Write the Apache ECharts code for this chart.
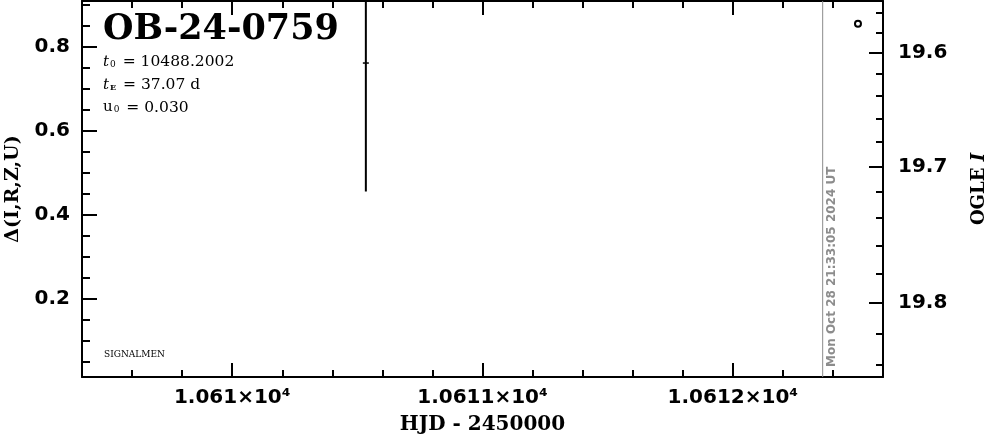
<!DOCTYPE html>
<html>
<head>
<meta charset="utf-8">
<script src="https://cdn.jsdelivr.net/npm/echarts@6/dist/echarts.min.js"></script>
<style>
html,body{margin:0;padding:0;background:#fff;}
#chart{width:986px;height:434px;}
</style>
</head>
<body>
<div id="chart"></div>
<script>
// ---- data ----
const xRange = [10609.4, 10612.6];
const xMajorTicks = [10610, 10611, 10612];
const xTickLabels = ['1.061×10⁴', '1.0611×10⁴', '1.0612×10⁴'];
const xMinorTicks = [10609.6, 10609.8, 10610.2, 10610.4, 10610.6, 10610.8, 10611.2, 10611.4, 10611.6, 10611.8, 10612.2, 10612.4];
const yRange = [0.014, 0.908];
const yMajorTicks = [0.2, 0.4, 0.6, 0.8];
const yMinorTicks = [0.05, 0.1, 0.15, 0.25, 0.3, 0.35, 0.45, 0.5, 0.55, 0.65, 0.7, 0.75, 0.85, 0.9];
const magMajorTicks = [19.6, 19.7, 19.8];
const magTickLabels = ['19.6', '19.7', '19.8'];
const magMinorTicks = [19.56, 19.58, 19.62, 19.64, 19.66, 19.68, 19.72, 19.74, 19.76, 19.78, 19.82, 19.84];
// OGLE point with error bar: [HJD, delta, lower, upper]
const ogleHJD = [10610.534];
const ogleDelta = [0.7605];
const ogleLow = [0.455];
const ogleHigh = [1.066];
// other survey point
const otherHJD = [10612.50];
const otherDelta = [0.854];
// "now" line
const nowHJD = 10612.359;
const nowText = 'Mon Oct 28 21:33:05 2024 UT';
// magnitude -> delta mapping
function magToDelta(m) { return 2.1259 - 1.6116 * Math.pow(10, 0.797 * (m - 19.7)); }

const magMajorD = magMajorTicks.map(magToDelta);
const magMinorD = magMinorTicks.map(magToDelta);

const chart = echarts.init(document.getElementById('chart'));
const tickFont = {fontFamily: 'DejaVu Sans', fontWeight: 'bold', fontSize: 20, color: '#000'};
const lineS = {color: '#000', width: 2};

function nearestIdx(arr, v) {
  let b = 0; for (let i = 1; i < arr.length; i++) if (Math.abs(arr[i] - v) < Math.abs(arr[b] - v)) b = i; return b;
}

const baseX = {type: 'value', min: xRange[0], max: xRange[1], splitLine: {show: false}};
const baseY = {type: 'value', min: yRange[0], max: yRange[1], splitLine: {show: false}};

chart.setOption({
  animation: false,
  backgroundColor: '#fff',
  grid: {left: 82, right: 103, top: 1, bottom: 57, containLabel: false, outerBoundsMode: 'none'},
  xAxis: [
    Object.assign({}, baseX, {position: 'bottom', axisLine: {lineStyle: lineS},
      axisTick: {inside: true, length: 14, lineStyle: lineS, customValues: xMajorTicks},
      axisLabel: Object.assign({customValues: xMajorTicks, margin: 11,
        formatter: v => xTickLabels[nearestIdx(xMajorTicks, v)]}, tickFont),
      name: 'HJD - 2450000', nameLocation: 'middle', nameGap: 38,
      nameTextStyle: {fontFamily: 'DejaVu Serif', fontWeight: 'bold', fontSize: 20, color: '#000'}}),
    Object.assign({}, baseX, {position: 'bottom', axisLine: {show: false},
      axisTick: {inside: true, length: 7, lineStyle: lineS, customValues: xMinorTicks},
      axisLabel: {show: false}}),
    Object.assign({}, baseX, {position: 'top', axisLine: {lineStyle: lineS},
      axisTick: {inside: true, length: 14, lineStyle: lineS, customValues: xMajorTicks},
      axisLabel: {show: false}}),
    Object.assign({}, baseX, {position: 'top', axisLine: {show: false},
      axisTick: {inside: true, length: 7, lineStyle: lineS, customValues: xMinorTicks},
      axisLabel: {show: false}})
  ],
  yAxis: [
    Object.assign({}, baseY, {position: 'left', axisLine: {show: true, lineStyle: lineS},
      axisTick: {show: true, inside: true, length: 15, lineStyle: lineS, customValues: yMajorTicks},
      axisLabel: Object.assign({customValues: yMajorTicks, margin: 12, formatter: v => v.toFixed(1)}, tickFont),
      name: 'Δ(I,R,Z,U)', nameLocation: 'middle', nameGap: 59, nameRotate: 90,
      nameTextStyle: {fontFamily: 'DejaVu Serif', fontWeight: 'bold', fontSize: 19, color: '#000'}}),
    Object.assign({}, baseY, {position: 'left', axisLine: {show: false},
      axisTick: {show: true, inside: true, length: 8, lineStyle: lineS, customValues: yMinorTicks},
      axisLabel: {show: false}}),
    Object.assign({}, baseY, {position: 'right', axisLine: {show: true, lineStyle: lineS},
      axisTick: {show: true, inside: true, length: 14, lineStyle: lineS, customValues: magMajorD},
      axisLabel: Object.assign({customValues: magMajorD, margin: 15,
        formatter: v => magTickLabels[nearestIdx(magMajorD, v)]}, tickFont),
      name: 'OGLE {i|I}', nameLocation: 'middle', nameGap: 87, nameRotate: 90,
      nameTextStyle: {fontFamily: 'DejaVu Serif', fontWeight: 'bold', fontSize: 18, color: '#000',
        rich: {i: {fontFamily: 'DejaVu Serif', fontStyle: 'italic', fontWeight: 'bold', fontSize: 18, color: '#000'}}}}),
    Object.assign({}, baseY, {position: 'right', axisLine: {show: false},
      axisTick: {show: true, inside: true, length: 7, lineStyle: lineS, customValues: magMinorD},
      axisLabel: {show: false}})
  ],
  series: [
    {
      type: 'custom', xAxisIndex: 0, yAxisIndex: 0, clip: true,
      data: [[nowHJD]],
      renderItem: function (params, api) {
        const b = api.coord([api.value(0), yRange[0]]);
        const t = api.coord([api.value(0), yRange[1]]);
        return {type: 'group', children: [
          {type: 'line', shape: {x1: b[0], y1: b[1], x2: t[0], y2: t[1]}, style: {stroke: '#8c8c8c', lineWidth: 1}},
          {type: 'text', x: b[0] + 9, y: b[1] - 10, rotation: Math.PI / 2,
            style: {text: nowText, fill: '#8c8c8c', font: 'bold 12px "DejaVu Sans"', align: 'left', verticalAlign: 'middle'}}
        ]};
      }
    },
    {
      type: 'custom', xAxisIndex: 0, yAxisIndex: 0, clip: true,
      data: ogleHJD.map((x, i) => [x, ogleDelta[i], ogleLow[i], ogleHigh[i]]),
      renderItem: function (params, api) {
        const p = api.coord([api.value(0), api.value(1)]);
        const lo = api.coord([api.value(0), api.value(2)]);
        const hi = api.coord([api.value(0), api.value(3)]);
        return {type: 'group', children: [
          {type: 'line', shape: {x1: lo[0], y1: lo[1], x2: hi[0], y2: hi[1]}, style: {stroke: '#000', lineWidth: 2}},
          {type: 'line', shape: {x1: p[0] - 3, y1: p[1], x2: p[0] + 3, y2: p[1]}, style: {stroke: '#000', lineWidth: 1.5}}
        ]};
      }
    },
    {
      type: 'scatter', xAxisIndex: 0, yAxisIndex: 0,
      data: otherHJD.map((x, i) => [x, otherDelta[i]]),
      symbol: 'circle', symbolSize: 6,
      itemStyle: {color: '#fff', borderColor: '#000', borderWidth: 2, opacity: 1}
    }
  ],
  graphic: [
    {type: 'text', x: 103, y: 30, style: {text: 'OB-24-0759', font: 'bold 35px "DejaVu Serif"', fill: '#000', verticalAlign: 'middle'}},
    {type: 'text', x: 103, y: 62, style: {
      text: '{t|t}{s|0}{n| = 10488.2002}', verticalAlign: 'middle',
      rich: {t: {font: 'italic 15px "DejaVu Serif"', fill: '#000'}, s: {font: '9px "DejaVu Serif"', fill: '#000', padding: [5, 2, 0, 1]}, n: {font: '15.5px "DejaVu Serif"', fill: '#000'}}}},
    {type: 'text', x: 103, y: 85, style: {
      text: '{t|t}{s|E}{n| = 37.07 d}', verticalAlign: 'middle',
      rich: {t: {font: 'italic 15px "DejaVu Serif"', fill: '#000'}, s: {font: 'bold 8px "DejaVu Serif"', fill: '#000', padding: [5, 2, 0, 1]}, n: {font: '15.5px "DejaVu Serif"', fill: '#000'}}}},
    {type: 'text', x: 103, y: 107.5, style: {
      text: '{t|u}{s|0}{n| = 0.030}', verticalAlign: 'middle',
      rich: {t: {font: '15px "DejaVu Serif"', fill: '#000'}, s: {font: '9px "DejaVu Serif"', fill: '#000', padding: [5, 2, 0, 1]}, n: {font: '15.5px "DejaVu Serif"', fill: '#000'}}}},
    {type: 'text', x: 104, y: 355, style: {text: 'SIGNALMEN', font: '9px "DejaVu Serif"', fill: '#000', verticalAlign: 'middle'}}
  ]
});
</script>
</body>
</html>
